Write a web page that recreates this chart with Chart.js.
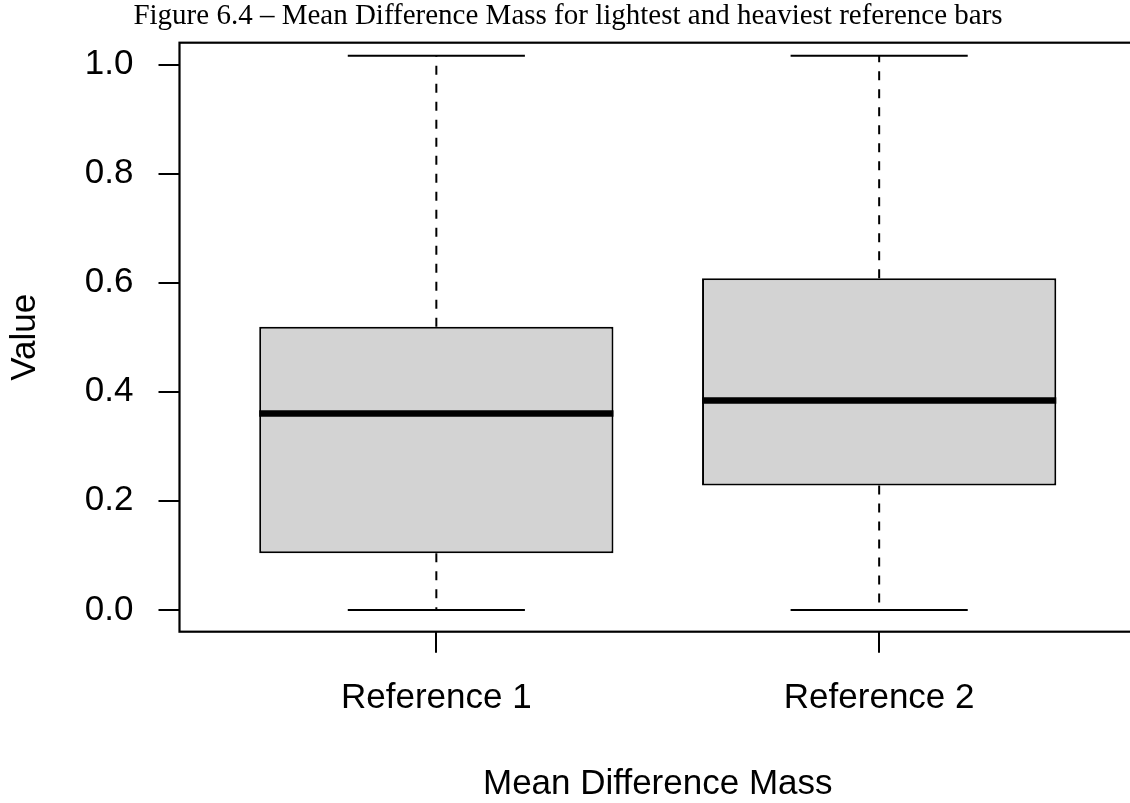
<!DOCTYPE html>
<html>
<head>
<meta charset="utf-8">
<script src="https://cdn.jsdelivr.net/npm/chart.js@4/dist/chart.umd.min.js"></script>
<style>
  html, body { margin: 0; padding: 0; background: #fff; overflow: hidden; }
  #wrap { width: 1130px; height: 803px; overflow: hidden; }
  canvas { display: block; }
</style>
</head>
<body>
<div id="wrap"><canvas id="c" width="1136" height="803"></canvas></div>
<script>
// ---- data ----
const categories = ['Reference 1', 'Reference 2'];
const positions = [1, 2];
const whiskerLow = [0.0, 0.0];
const q1 = [0.104, 0.228];
const median = [0.360, 0.384];
const q3 = [0.519, 0.608];
const whiskerHigh = [1.016, 1.016];
const yTickValues = [0.0, 0.2, 0.4, 0.6, 0.8, 1.0];
const yTickLabels = ['0.0', '0.2', '0.4', '0.6', '0.8', '1.0'];

const chartTitle = 'Figure 6.4 \u2013 Mean Difference Mass for lightest and heaviest reference bars';
const xTitle = 'Mean Difference Mass';
const yTitle = 'Value';

const SANS = "'Liberation Sans', Arial, Helvetica, sans-serif";
const SERIF = "'Liberation Serif', 'Times New Roman', serif";

const boxPlugin = {
  id: 'boxExtras',
  beforeDatasetsDraw(chart) {
    const ctx = chart.ctx;
    const xs = chart.scales.x, ys = chart.scales.y;
    const meta = chart.getDatasetMeta(0);
    ctx.save();
    ctx.strokeStyle = '#000';
    ctx.lineWidth = 2;
    ctx.lineCap = 'butt';
    positions.forEach((p, i) => {
      const xc = xs.getPixelForValue(p);
      const half = meta.data[i].width / 2;
      // dashed whiskers
      ctx.setLineDash([9, 9]);
      ctx.beginPath();
      ctx.moveTo(xc, ys.getPixelForValue(q3[i]));
      ctx.lineTo(xc, ys.getPixelForValue(whiskerHigh[i]));
      ctx.moveTo(xc, ys.getPixelForValue(q1[i]));
      ctx.lineTo(xc, ys.getPixelForValue(whiskerLow[i]));
      ctx.stroke();
      // caps
      ctx.setLineDash([]);
      ctx.beginPath();
      ctx.moveTo(xc - half / 2, ys.getPixelForValue(whiskerHigh[i]));
      ctx.lineTo(xc + half / 2, ys.getPixelForValue(whiskerHigh[i]));
      ctx.moveTo(xc - half / 2, ys.getPixelForValue(whiskerLow[i]));
      ctx.lineTo(xc + half / 2, ys.getPixelForValue(whiskerLow[i]));
      ctx.stroke();
    });
    ctx.restore();
  },
  afterDatasetsDraw(chart) {
    const ctx = chart.ctx;
    const xs = chart.scales.x, ys = chart.scales.y;
    const meta = chart.getDatasetMeta(0);
    const a = chart.chartArea;
    ctx.save();
    ctx.strokeStyle = '#000';
    ctx.setLineDash([]);
    // medians
    ctx.lineWidth = 6.5;
    ctx.lineCap = 'butt';
    positions.forEach((p, i) => {
      const xc = xs.getPixelForValue(p);
      const half = meta.data[i].width / 2;
      const y = ys.getPixelForValue(median[i]);
      ctx.beginPath();
      ctx.moveTo(xc - half, y);
      ctx.lineTo(xc + half, y);
      ctx.stroke();
    });
    // frame
    ctx.lineWidth = 2.2;
    ctx.strokeRect(a.left, a.top, a.right - a.left, a.bottom - a.top);
    ctx.restore();
  }
};

new Chart(document.getElementById('c'), {
  type: 'bar',
  data: {
    datasets: [{
      data: categories.map((c, i) => ({ x: positions[i], y: [q1[i], q3[i]] })),
      backgroundColor: '#D3D3D3',
      borderColor: '#000',
      borderWidth: 2,
      borderSkipped: false,
      barPercentage: 0.8,
      categoryPercentage: 1.0
    }]
  },
  options: {
    responsive: false,
    animation: false,
    devicePixelRatio: 1,
    layout: { padding: { left: 0, right: 0, top: 0, bottom: 0 } },
    plugins: {
      legend: { display: false },
      tooltip: { enabled: false },
      title: {
        display: true,
        text: chartTitle,
        color: '#000',
        font: { family: SERIF, size: 29, weight: 'normal', lineHeight: 0.8 },
        padding: { top: 4.5, bottom: 15 }
      }
    },
    scales: {
      x: {
        type: 'linear',
        min: 0.42,
        max: 2.58,
        offset: false,
        afterBuildTicks: s => { s.ticks = positions.map(v => ({ value: v })); },
        afterFit: s => { s.height = 803 - 631.7; },
        ticks: {
          callback: (v, i) => categories[i],
          color: '#000',
          font: { family: SANS, size: 35, lineHeight: 1.2 },
          padding: 24.2,
          maxRotation: 0,
          autoSkip: false
        },
        grid: {
          offset: false,
          drawOnChartArea: false,
          drawTicks: true,
          tickLength: 21,
          color: '#000',
          lineWidth: 2
        },
        border: { display: false },
        title: {
          display: true,
          text: xTitle,
          color: '#000',
          font: { family: SANS, size: 35, lineHeight: 1 },
          padding: { top: 0, bottom: 1.6 }
        }
      },
      y: {
        type: 'linear',
        min: -0.04,
        max: 1.04,
        afterBuildTicks: s => { s.ticks = yTickValues.map(v => ({ value: v })); },
        afterFit: s => { s.width = 179.5; },
        ticks: {
          callback: (v, i) => yTickLabels[i],
          color: '#000',
          font: { family: SANS, size: 35, lineHeight: 1.0 },
          padding: 25,
          autoSkip: false
        },
        grid: {
          drawOnChartArea: false,
          drawTicks: true,
          tickLength: 21,
          color: '#000',
          lineWidth: 2
        },
        border: { display: false },
        title: {
          display: true,
          text: yTitle,
          color: '#000',
          font: { family: SANS, size: 35, lineHeight: 1 },
          padding: { top: 7.7, bottom: 0 }
        }
      }
    }
  },
  plugins: [boxPlugin]
});
</script>
</body>
</html>
